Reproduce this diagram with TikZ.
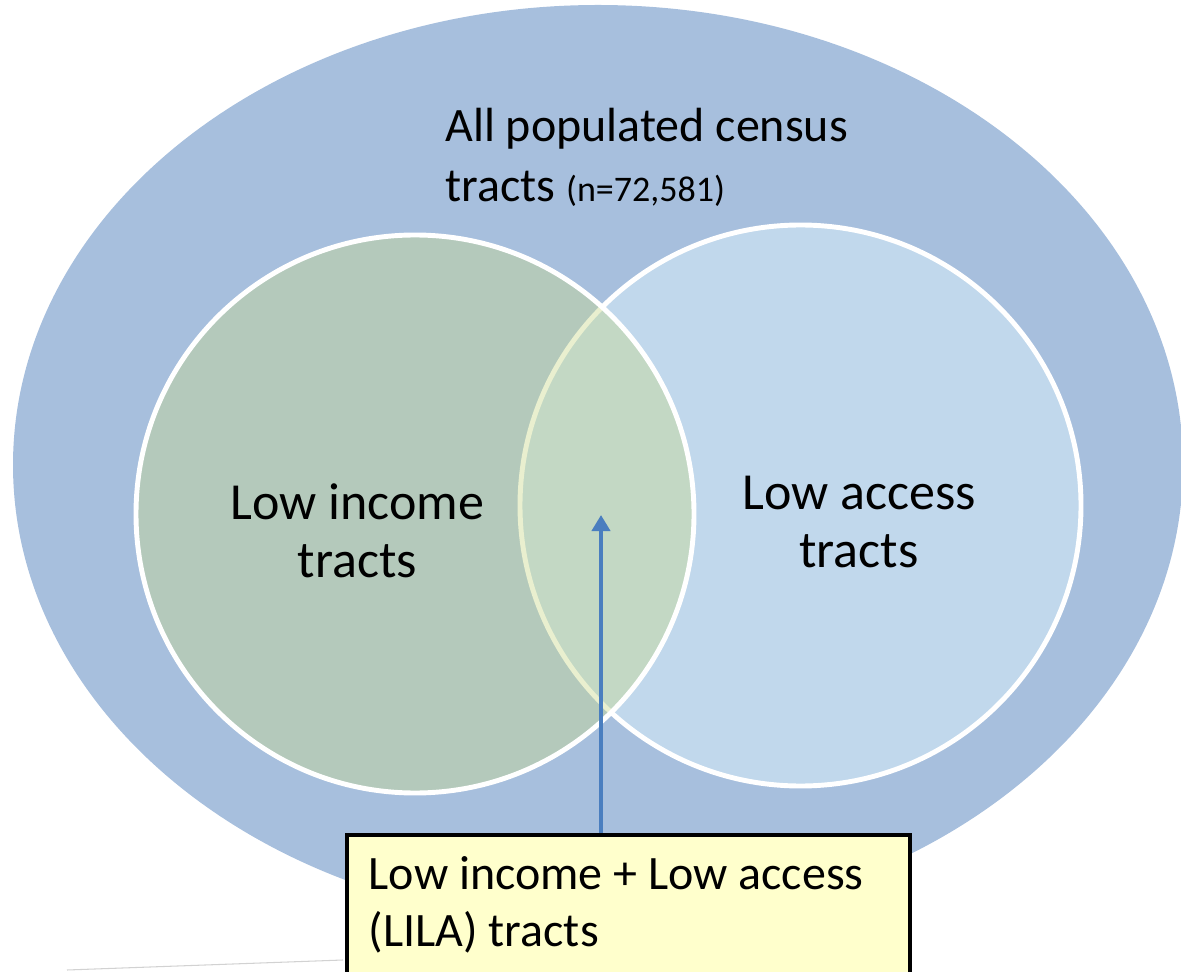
\documentclass[tikz,border=0pt]{standalone}
\usepackage{fontspec}
\setmainfont{Carlito}
\usetikzlibrary{arrows.meta, shapes.geometric}
\definecolor{tractblue}{RGB}{167,191,221}
\definecolor{accessblue}{RGB}{193,216,236}
\definecolor{incomegreen}{RGB}{200,217,136}
\definecolor{lilayellow}{RGB}{255,255,204}
\definecolor{arrowblue}{RGB}{74,126,191}
\tikzset{
  every node/.style={inner sep=0pt},
  venn/.style={circle, draw=white, line width=2.8pt},
  big text/.style={font=\fontsize{27.3}{34}\selectfont, align=left, anchor=north west},
  set text/.style={font=\fontsize{29.6}{33}\selectfont, align=center},
  lila box/.style={draw=black, line width=2pt, fill=lilayellow, align=flush left,
    text width=10.38cm, inner sep=0.44cm, anchor=north west,
    font=\fontsize{27.3}{32.4}\selectfont},
  pointer/.style={draw=arrowblue, line width=2.6pt, -{Triangle[width=0.36cm,length=0.32cm]}},
}

\begin{document}
\begin{tikzpicture}
  \clip (0,0) rectangle (23.62,19.42);
  \draw[gray!35, line width=0.6pt] (1.34,0.02) -- (6.86,0.22);

  \node[ellipse, fill=tractblue, minimum width=23.4cm, minimum height=18.4cm] (all) at (11.96,10.12) {};
  \node[venn, fill=accessblue, minimum size=11.22cm] (access) at (16.01,9.31) {};
  \node[venn, fill=incomegreen, fill opacity=0.4, minimum size=11.16cm] (income) at (8.30,9.14) {};

  \node[big text] (alltext) at (8.90,17.26)
    {All populated census\\tracts {\fontsize{20.5}{24}\selectfont(n=72,581)}};
  \node[set text] (incometext) at (7.15,8.80) {Low income\\tracts};
  \node[set text] (accesstext) at (17.18,8.98) {Low access\\tracts};

  \coordinate (tip) at (12.02,9.12);
  \node[lila box] (lila) at (6.90,2.76) {\mbox{Low income + Low access}\\(LILA) tracts};
  \draw[pointer] (lila.north -| tip) -- (tip);
\end{tikzpicture}
\end{document}
